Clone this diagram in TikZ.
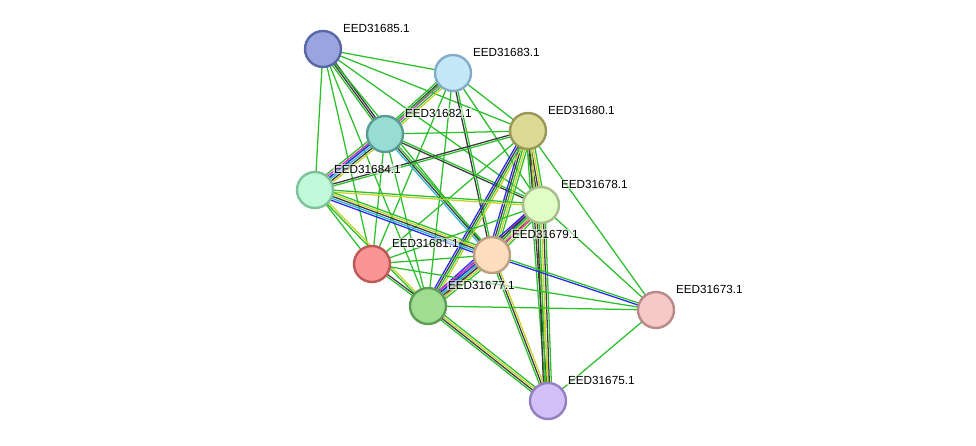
\documentclass[tikz,border=0pt]{standalone}
\usepackage{fontspec}
\setmainfont{Liberation Sans}
\usetikzlibrary{positioning, calc, backgrounds}

\definecolor{sg}{HTML}{2CBF2C}
\definecolor{sy}{HTML}{C6D22C}
\definecolor{sk}{HTML}{3A3A3A}
\definecolor{sb}{HTML}{2828F2}
\definecolor{sc}{HTML}{2CB4D4}
\definecolor{sm}{HTML}{E02CD0}

% one STRING link, drawn as parallel coloured lines
\newcommand{\lnk}[3]{%
    \foreach \c [count=\i] in {#3}{\global\let\nlines\i}%
    \foreach \c [count=\i] in {#3}{%
        \pgfmathsetmacro{\off}{(\i-(\nlines+1)/2)*1.5}%
        \draw[edge, draw=\c] ($(#1)!\off pt!90:(#2)$) -- ($(#2)!\off pt!-90:(#1)$);
    }%
}

\begin{document}
\begin{tikzpicture}[
    x=0.75pt, y=-0.75pt,
    edge/.style={
        line width=0.95pt
    },
    prot/.style={
        circle,
        minimum size=27pt,
        inner sep=0pt,
        line width=1.8pt,
        draw
    },
    lbl/.style={
        anchor=base west,
        inner sep=0.6pt,
        fill=white,
        fill opacity=0.55,
        text opacity=1,
        font=\fontsize{8.8}{9}\selectfont
    }
]
    \useasboundingbox (0,0) rectangle (976,446);

    % Proteins
    \node[prot, fill={rgb,255:red,154;green,165;blue,224}, draw={rgb,255:red,88;green,104;blue,164}] (n85) at (323,49) {};
    \node[prot, fill={rgb,255:red,197;green,232;blue,249}, draw={rgb,255:red,130;green,172;blue,200}] (n83) at (453,73) {};
    \node[prot, fill={rgb,255:red,152;green,221;blue,212}, draw={rgb,255:red,90;green,156;blue,146}] (n82) at (385,134) {};
    \node[prot, fill={rgb,255:red,221;green,218;blue,150}, draw={rgb,255:red,154;green,152;blue,88}] (n80) at (528,131) {};
    \node[prot, fill={rgb,255:red,191;green,249;blue,217}, draw={rgb,255:red,126;green,194;blue,154}] (n84) at (315,190) {};
    \node[prot, fill={rgb,255:red,225;green,253;blue,198}, draw={rgb,255:red,166;green,190;blue,138}] (n78) at (541,205) {};
    \node[prot, fill={rgb,255:red,249;green,149;blue,149}, draw={rgb,255:red,190;green,88;blue,88}] (n81) at (372,264) {};
    \node[prot, fill={rgb,255:red,253;green,221;blue,190}, draw={rgb,255:red,188;green,158;blue,128}] (n79) at (492,255) {};
    \node[prot, fill={rgb,255:red,159;green,222;blue,145}, draw={rgb,255:red,94;green,156;blue,84}] (n77) at (428,306) {};
    \node[prot, fill={rgb,255:red,247;green,200;blue,200}, draw={rgb,255:red,186;green,138;blue,138}] (n73) at (656,310) {};
    \node[prot, fill={rgb,255:red,211;green,192;blue,248}, draw={rgb,255:red,146;green,128;blue,194}] (n75) at (548,401) {};

    % Links
    \begin{scope}[on background layer]
        \lnk{n85}{n83}{sg}
        \lnk{n85}{n82}{sg,sk,sk}
        \lnk{n85}{n84}{sg}
        \lnk{n85}{n81}{sg}
        \lnk{n85}{n77}{sg}
        \lnk{n85}{n79}{sg}
        \lnk{n85}{n80}{sg}
        \lnk{n85}{n78}{sg}
        \lnk{n83}{n82}{sg,sk,sm,sg,sy}
        \lnk{n83}{n80}{sg}
        \lnk{n83}{n79}{sk,sg}
        \lnk{n83}{n78}{sg}
        \lnk{n83}{n84}{sg}
        \lnk{n83}{n81}{sg}
        \lnk{n83}{n77}{sg}
        \lnk{n82}{n80}{sg}
        \lnk{n82}{n84}{sg,sm,sb,sc,sk,sy}
        \lnk{n82}{n78}{sk,sg}
        \lnk{n82}{n79}{sc,sk,sg}
        \lnk{n82}{n81}{sg}
        \lnk{n82}{n77}{sg}
        \lnk{n80}{n84}{sk,sg}
        \lnk{n80}{n78}{sg,sk,sk,sy,sg}
        \lnk{n80}{n79}{sb,sk,sg,sy,sg}
        \lnk{n80}{n77}{sb,sk,sg,sy}
        \lnk{n80}{n81}{sg}
        \lnk{n80}{n75}{sg,sk,sy}
        \lnk{n80}{n73}{sg}
        \lnk{n84}{n78}{sy,sg}
        \lnk{n84}{n79}{sb,sc,sk,sy,sg}
        \lnk{n84}{n81}{sg}
        \lnk{n84}{n77}{sg,sy}
        \lnk{n78}{n79}{sm,sb,sc,sk,sy,sg}
        \lnk{n78}{n77}{sb,sk,sg,sy,sm}
        \lnk{n78}{n75}{sk,sg,sy,sk,sg}
        \lnk{n78}{n73}{sg}
        \lnk{n78}{n81}{sg}
        \lnk{n81}{n79}{sg}
        \lnk{n81}{n77}{sg,sk}
        \lnk{n81}{n73}{sg}
        \lnk{n79}{n77}{sm,sb,sc,sk,sy,sg}
        \lnk{n79}{n73}{sb,sg}
        \lnk{n79}{n75}{sg,sk,sy}
        \lnk{n77}{n73}{sg}
        \lnk{n77}{n75}{sg,sk,sy,sg}
        \lnk{n73}{n75}{sg}
    \end{scope}

    % Labels
    \node[lbl] (t85) at ($(n85)+(19,-17)$) {EED31685.1};
    \node[lbl] (t83) at ($(n83)+(19,-17)$) {EED31683.1};
    \node[lbl] (t82) at ($(n82)+(19,-17)$) {EED31682.1};
    \node[lbl] (t80) at ($(n80)+(19,-17)$) {EED31680.1};
    \node[lbl] (t84) at ($(n84)+(18,-17)$) {EED31684.1};
    \node[lbl] (t78) at ($(n78)+(19,-17)$) {EED31678.1};
    \node[lbl] (t81) at ($(n81)+(19,-17)$) {EED31681.1};
    \node[lbl] (t79) at ($(n79)+(19,-17)$) {EED31679.1};
    \node[lbl] (t77) at ($(n77)+(19,-17)$) {EED31677.1};
    \node[lbl] (t73) at ($(n73)+(19,-17)$) {EED31673.1};
    \node[lbl] (t75) at ($(n75)+(19,-17)$) {EED31675.1};

\end{tikzpicture}
\end{document}
